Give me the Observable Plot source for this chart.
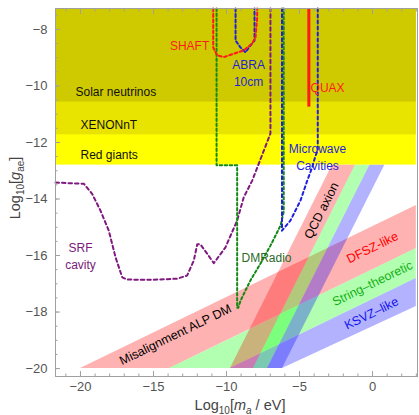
<!DOCTYPE html>
<html><head><meta charset="utf-8">
<script src="https://cdn.jsdelivr.net/npm/d3@7"></script>
<script src="https://cdn.jsdelivr.net/npm/@observablehq/plot@0.6"></script>
<style>body{margin:0;background:#fff} #chart svg{display:block}</style>
</head><body><div id="chart"></div>
<script>
// ---------- data (log10 m_a / eV , log10 g_ae) ----------
const xDomain = [-21.71, 3.08];
const yDomain = [-20.28, -7.26];
const yTop = -7.26;

// astrophysical / direct constraints (lower edge of each shaded region)
const constraintNames = ["Red giants", "XENONnT", "Solar neutrinos"];
const constraintLow = [-12.8, -11.73, -10.57];
const constraintLabelX = [-20.0, -20.0, -20.34];
const constraintLabelY = [-12.46, -11.4, -10.23];

// shallow bands (misalignment ALP DM / string-theoretic / KSVZ-like)
const pinkBandX = [-20, -13.9, 3.0];
const pinkBandLo = [-20, -20, -15.75];
const pinkBandHi = [-20, -18.47, -14.23];
const greenBandX = [-13.9, -9.75, 3.0];
const greenBandLo = [-20, -20, -16.81];
const greenBandHi = [-20, -18.96, -15.75];
const blueBandX = [-9.75, -6.16, 3.0];
const blueBandLo = [-20, -20, -17.8];
const blueBandHi = [-20, -19.1, -16.81];

// steep QCD axion bands: edges at bottom and top of the visible part
const qcdY = [-20, -12.8];
const qcdEdgeBottom = [-9.73, -8.15, -7.19, -6.16];
const qcdEdgeTop = [-2.74, -1.16, -0.17, 0.85];

// projected sensitivities (dashed curves)
const srfX = [-21.71, -19.77, -19.2, -18.63, -18.06, -17.6, -17.14, -16.8, -15.2, -13.38, -12.7, -12.24, -12.0, -11.78, -11.32, -10.87, -10.07, -9.27, -8.82, -8.24, -6.99, -6.99];
const srfY = [-13.42, -13.46, -13.82, -14.41, -15.12, -16.06, -16.77, -16.85, -16.86, -16.82, -16.71, -16.18, -15.6, -15.61, -15.94, -16.27, -15.71, -14.76, -13.94, -13.35, -11.68, -7.26];

const dmrX = [-10.68, -10.68, -9.27, -9.27, -9.2, -9.04, -8.36, -7.67, -6.99, -6.3, -6.08, -6.08];
const dmrY = [-7.26, -12.81, -12.81, -17.85, -17.85, -17.6, -16.88, -16.28, -15.65, -14.94, -14.45, -7.26];

const mwX = [-3.75, -3.75, -3.9, -4.13, -4.47, -4.93, -5.62, -6.2, -6.2];
const mwY = [-7.26, -12.28, -12.46, -12.88, -13.35, -14.05, -14.76, -15.12, -7.26];

const abraX = [-9.38, -9.38, -9.04, -8.7, -8.36, -8.08, -8.08];
const abraY = [-7.26, -8.39, -8.64, -8.81, -8.57, -8.39, -7.26];

const shaftX = [-10.91, -10.91, -10.64, -10.18, -9.5, -8.82, -8.24, -8.01, -7.9, -7.9];
const shaftY = [-7.26, -8.64, -8.92, -8.98, -8.86, -8.74, -8.5, -8.27, -7.6, -7.26];

const quaxX = [-4.36];
const quaxY = [-10.75, -7.26];

// labels
const expLabels = ["SHAFT", "ABRA\n10cm", "QUAX", "Microwave\nCavities", "SRF\ncavity", "DMRadio"];
const expLabelX = [-12.53, -8.49, -3.08, -3.77, -20.0, -7.26];
const expLabelY = [-8.53, -9.5, -10.02, -12.48, -15.98, -16.04];
const bandLabels = ["Misalignment ALP DM", "DFSZ-like", "String\u2013theoretic", "KSVZ\u2013like"];
const bandLabelX = [-13.49, 0.0, 0.0, -0.07];
const bandLabelY = [-18.8, -15.72, -16.99, -18.05];
const qcdLabel = ["QCD axion"];
const qcdLabelX = [-3.49];
const qcdLabelY = [-14.41];

const xMajor = [-20, -15, -10, -5, 0];
const xMinor = d3.range(-21, 4, 1);
const yMajor = [-20, -18, -16, -14, -12, -10, -8];
const yMinor = d3.range(-20, -7.2, 0.5);

// ---------- styles ----------
const FONT = "'Liberation Sans', Arial, sans-serif";
const constraintColors = ["#ffff00", "#e8e400", "#cfca00"];
const expColors = ["#ff1a1a", "#1f1fd8", "#ff1a1a", "#1f1fd8", "#7a1a7a", "#2a6a2a"];
const bandTextColors = ["#000000", "#ff0000", "#14b014", "#1515ee"];

const zip3 = (xs, lo, hi) => xs.map((x, i) => ({x, lo: lo[i], hi: hi[i]}));
const pts = (xs, ys) => xs.map((x, i) => ({x, y: ys[i]}));
const qcdBand = (k) => qcdY.map((y, i) => ({y, x1: [qcdEdgeBottom, qcdEdgeTop][i][k], x2: [qcdEdgeBottom, qcdEdgeTop][i][k + 1]}));

const constraints = constraintNames.map((n, i) => ({n, lo: constraintLow[i], lx: constraintLabelX[i], ly: constraintLabelY[i]}));
const exps = expLabels.map((t, i) => ({t, x: expLabelX[i], y: expLabelY[i], c: expColors[i]}));
const bandsT = bandLabels.map((t, i) => ({t, x: bandLabelX[i], y: bandLabelY[i], c: bandTextColors[i]}));

const op = 0.3;
const svg = Plot.plot({
  width: 419, height: 415,
  marginLeft: 55, marginRight: 2, marginTop: 8, marginBottom: 39,
  x: {domain: xDomain}, y: {domain: yDomain},
  style: {fontFamily: FONT, background: "white"},
  marks: [
    Plot.areaY(zip3(pinkBandX, pinkBandLo, pinkBandHi), {x: "x", y1: "lo", y2: "hi", fill: "#ff0000", fillOpacity: op}),
    Plot.areaY(zip3(greenBandX, greenBandLo, greenBandHi), {x: "x", y1: "lo", y2: "hi", fill: "#00ff00", fillOpacity: op}),
    Plot.areaY(zip3(blueBandX, blueBandLo, blueBandHi), {x: "x", y1: "lo", y2: "hi", fill: "#0000ff", fillOpacity: op}),
    Plot.areaX(qcdBand(0), {y: "y", x1: "x1", x2: "x2", fill: "#ff0000", fillOpacity: op}),
    Plot.areaX(qcdBand(1), {y: "y", x1: "x1", x2: "x2", fill: "#00ff00", fillOpacity: op}),
    Plot.areaX(qcdBand(2), {y: "y", x1: "x1", x2: "x2", fill: "#0000ff", fillOpacity: op}),
    Plot.rect(constraints, {x1: xDomain[0], x2: 3.0, y1: "lo", y2: yTop, fill: (d, i) => constraintColors[i]}),
    Plot.line(pts(srfX, srfY), {x: "x", y: "y", stroke: "#80197f", strokeWidth: 2, strokeDasharray: "3.5,3"}),
    Plot.line(pts(dmrX, dmrY), {x: "x", y: "y", stroke: "#138a13", strokeWidth: 2, strokeDasharray: "2.5,2.5"}),
    Plot.line(pts(mwX, mwY), {x: "x", y: "y", stroke: "#1f1fe0", strokeWidth: 2, strokeDasharray: "3,3"}),
    Plot.line(pts(abraX, abraY), {x: "x", y: "y", stroke: "#1f1fe0", strokeWidth: 2, strokeDasharray: "3,2.5"}),
    Plot.line(pts(shaftX, shaftY), {x: "x", y: "y", stroke: "#ff1a1a", strokeWidth: 2, strokeDasharray: "3,2.5"}),
    Plot.ruleX(quaxX, {y1: quaxY[0], y2: quaxY[1], stroke: "#ff1a1a", strokeWidth: 3}),
    Plot.text(constraints, {x: "lx", y: "ly", text: "n", textAnchor: "start", fontSize: 12, fill: "#111"}),
    Plot.text(exps, {x: "x", y: "y", text: "t", fill: "c", fontSize: 12, lineHeight: 1.42}),
    Plot.text(bandsT, {x: "x", y: "y", text: "t", fill: "c", fontSize: 12.5, rotate: -26}),
    Plot.text(qcdLabel, {x: qcdLabelX, y: qcdLabelY, text: (d) => d, fill: "#000", fontSize: 12.5, rotate: -63}),
    Plot.frame({stroke: "#a0a0a0"}),
    Plot.axisX({ticks: xMinor, tickSize: -2.5, tickFormat: () => "", stroke: "#a0a0a0", label: null}),
    Plot.axisX({ticks: xMajor, tickSize: -5, tickFormat: () => "", stroke: "#a0a0a0", label: null}),
    Plot.axisX({anchor: "top", ticks: xMinor, tickSize: -2.5, tickFormat: () => "", stroke: "#a0a0a0", label: null}),
    Plot.axisX({anchor: "top", ticks: xMajor, tickSize: -5, tickFormat: () => "", stroke: "#a0a0a0", label: null}),
    Plot.axisY({ticks: yMinor, tickSize: -2.5, tickFormat: () => "", stroke: "#a0a0a0", label: null}),
    Plot.axisY({ticks: yMajor, tickSize: -5, tickFormat: () => "", stroke: "#a0a0a0", label: null}),
    Plot.axisX({ticks: xMajor, tickSize: 0, tickPadding: 5, fontSize: 13, fill: "#555", label: null, tickFormat: d3.format("d")}),
    Plot.axisY({ticks: yMajor, tickSize: 0, tickPadding: 8, fontSize: 13, fill: "#555", label: null, tickFormat: d3.format("d")})
  ]
});
document.getElementById("chart").appendChild(svg);

const s = d3.select(svg);
const xl = s.append("text").attr("x", 240).attr("y", 410).attr("text-anchor", "middle")
  .style("font-family", FONT).style("font-size", "14.5px").attr("fill", "#444");
xl.append("tspan").text("Log");
xl.append("tspan").text("10").attr("dy", 4).style("font-size", "10px");
xl.append("tspan").text("[").attr("dy", -4);
xl.append("tspan").text("m").style("font-style", "italic");
xl.append("tspan").text("a").attr("dy", 4).style("font-size", "10px").style("font-style", "italic");
xl.append("tspan").text(" / eV]").attr("dy", -4);

const yl = s.append("text").attr("transform", "translate(20,188) rotate(-90)").attr("text-anchor", "middle")
  .style("font-family", FONT).style("font-size", "14.5px").attr("fill", "#444");
yl.append("tspan").text("Log");
yl.append("tspan").text("10").attr("dy", 4).style("font-size", "10px");
yl.append("tspan").text("[").attr("dy", -4);
yl.append("tspan").text("g").style("font-style", "italic");
yl.append("tspan").text("ae").attr("dy", 4).style("font-size", "10px");
yl.append("tspan").text("]").attr("dy", -4);
</script>
</body></html>
